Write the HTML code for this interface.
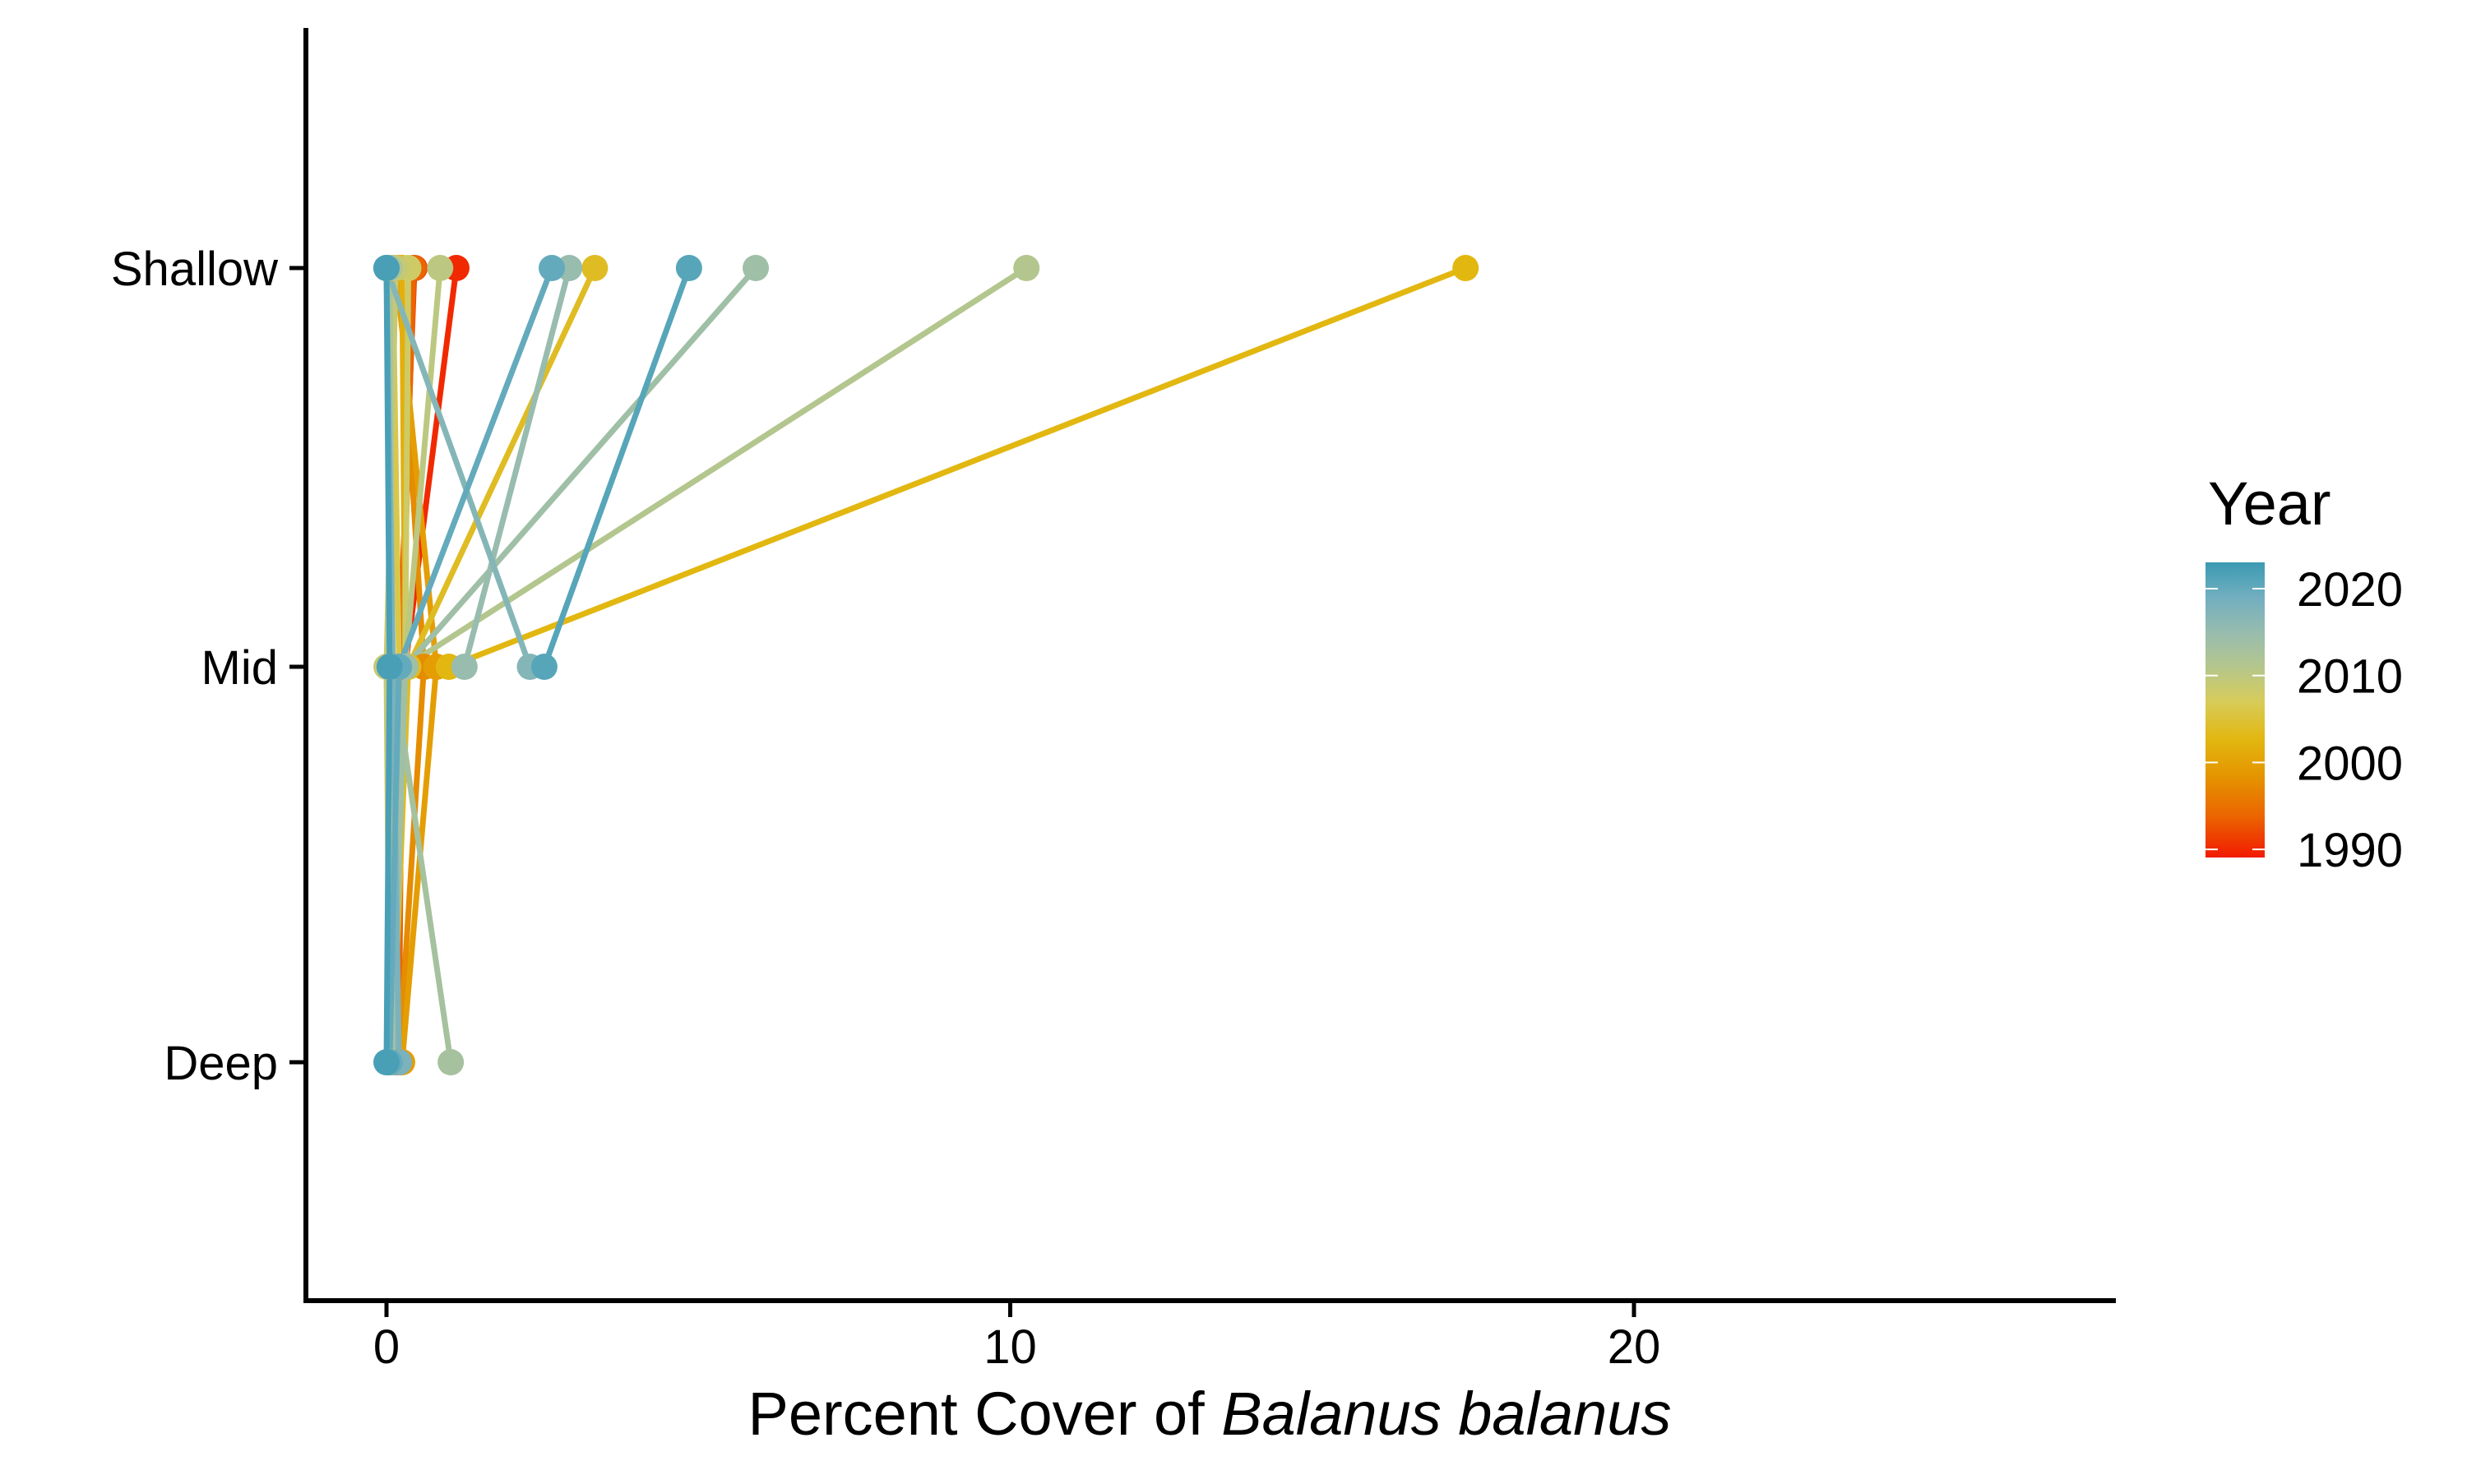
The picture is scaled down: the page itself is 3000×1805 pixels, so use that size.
<!DOCTYPE html>
<html><head><meta charset="utf-8">
<style>
html,body{margin:0;padding:0;background:#fff;}
svg text{font-family:"Liberation Sans",sans-serif;}
</style></head>
<body>
<svg id="chart" width="3000" height="1800" viewBox="0 0 3000 1800" xmlns="http://www.w3.org/2000/svg">
<defs>
<linearGradient id="cbar" x1="0" y1="0" x2="0" y2="1">
<stop offset="0" stop-color="#3B9AB2"/>
<stop offset="0.12" stop-color="#72AFC0"/>
<stop offset="0.24" stop-color="#98BCAE"/>
<stop offset="0.35" stop-color="#B3C68E"/>
<stop offset="0.47" stop-color="#D7CC5A"/>
<stop offset="0.6" stop-color="#E2B710"/>
<stop offset="0.72" stop-color="#E49600"/>
<stop offset="0.86" stop-color="#EB6500"/>
<stop offset="1" stop-color="#F21A00"/>
</linearGradient>
</defs>
<g id="marks"></g>
<g id="axes"></g>
<g id="legend">
<text x="2685" y="638" font-size="74">Year</text>
<rect x="2682" y="684" width="72" height="359" fill="url(#cbar)"/>
</g>
</svg>
<script>
const years   = [1990,1992,1994,1996,1998,2000,2002,2003,2004,2006,2008,2009,2010,2011,2012,2013,2014,2015,2017,2018,2020,2021,2022];
const deepVals    = [0.1,0.15,0.2,0.1,0.2,0.25,0.1,null,0.1,0.05,0.1,0.05,0.1,0.05,0.05,1.03,0.1,null,null,0.2,0.05,null,0.0];
const midVals     = [0.3,0.2,0.25,0.05,0.6,0.8,0.3,1.0,0.35,0.2,0.3,0.0,0.3,0.3,0.1,0.1,0.3,1.25,2.3,0.1,0.2,2.53,0.05];
const shallowVals = [1.12,0.45,0.43,0.1,0.2,0.15,0.25,17.3,3.34,0.1,0.35,0.15,0.86,10.26,0.05,0.0,5.92,2.93,0.0,0.0,2.65,4.85,0.0];
const depthLevels = ["Shallow","Mid","Deep"];
const xTicks = [0,10,20];
const legendYears = [2020,2010,2000,1990];

const NS="http://www.w3.org/2000/svg";
const X0=470, PXU=75.85;
function xs(v){return X0+v*PXU;}
const yPos={Shallow:326,Mid:811,Deep:1292};
function ys(l){return yPos[l];}
function yrY(y){return 716+(2020-y)*10.57;}

const stops=[[1989,[242,26,0]],[1994,[235,101,0]],[1999,[228,150,0]],[2003,[226,183,16]],[2007,[215,204,90]],[2011,[179,198,142]],[2015,[152,188,174]],[2019,[114,175,192]],[2023,[59,154,178]]];
function col(y){
  for(let i=0;i<stops.length-1;i++){
    const a=stops[i],b=stops[i+1];
    if(y<=b[0]||i==stops.length-2){
      let t=Math.max(0,Math.min(1,(y-a[0])/(b[0]-a[0])));
      const c=a[1].map((v,k)=>Math.round(v+(b[1][k]-v)*t));
      return `rgb(${c[0]},${c[1]},${c[2]})`;
    }
  }
}
function mk(tag,attrs,parent){const e=document.createElementNS(NS,tag);for(const k in attrs)e.setAttribute(k,attrs[k]);parent.appendChild(e);return e;}

const marks=document.getElementById('marks');
years.forEach((yr,i)=>{
  const c=col(yr);
  const raw=[[deepVals[i],"Deep"],[midVals[i],"Mid"],[shallowVals[i],"Shallow"]].filter(d=>d[0]!==null);
  const pts=raw.map(d=>[xs(d[0]),ys(d[1])]);
  const p=mk('polyline',{points:pts.map(p=>p.join(',')).join(' '),fill:'none',stroke:c,'stroke-width':7},marks);
  
  
});
years.forEach((yr,i)=>{
  const c=col(yr);
  [["deep",deepVals[i],"Deep"],["mid",midVals[i],"Mid"],["shallow",shallowVals[i],"Shallow"]].forEach(d=>{
    if(d[1]===null) return;
    const e=mk('circle',{cx:xs(d[1]),cy:ys(d[2]),r:16,fill:c},marks);
    
    
  });
});

const axes=document.getElementById('axes');
let a=mk('line',{x1:372,y1:34,x2:372,y2:1585,stroke:'#000','stroke-width':6},axes);

a=mk('line',{x1:369,y1:1582,x2:2573,y2:1582,stroke:'#000','stroke-width':6},axes);

depthLevels.forEach(l=>{
  let t=mk('line',{x1:352,y1:ys(l),x2:372,y2:ys(l),stroke:'#000','stroke-width':5},axes);
  
  let tx=mk('text',{x:338,y:ys(l)+21,'font-size':58,'text-anchor':'end'},axes);
  tx.textContent=l;
  
});
xTicks.forEach(v=>{
  let t=mk('line',{x1:xs(v),y1:1582,x2:xs(v),y2:1602,stroke:'#000','stroke-width':5},axes);
  
  let tx=mk('text',{x:xs(v),y:1658,'font-size':58,'text-anchor':'middle'},axes);
  tx.textContent=v;
  
});
let xt=mk('text',{x:1471,y:1745,'font-size':74,'text-anchor':'middle'},axes);

xt.innerHTML='Percent Cover of <tspan font-style="italic">Balanus balanus</tspan>';

const legend=document.getElementById('legend');
legendYears.forEach(y=>{
  const yy=yrY(y);
  let l1=mk('line',{x1:2682,y1:yy,x2:2697,y2:yy,stroke:'#fff','stroke-width':2},legend);
  
  let l2=mk('line',{x1:2739,y1:yy,x2:2754,y2:yy,stroke:'#fff','stroke-width':2},legend);
  
  let tx=mk('text',{x:2793,y:yy+21,'font-size':58},legend);
  tx.textContent=y;
  
});
</script>
</body></html>
